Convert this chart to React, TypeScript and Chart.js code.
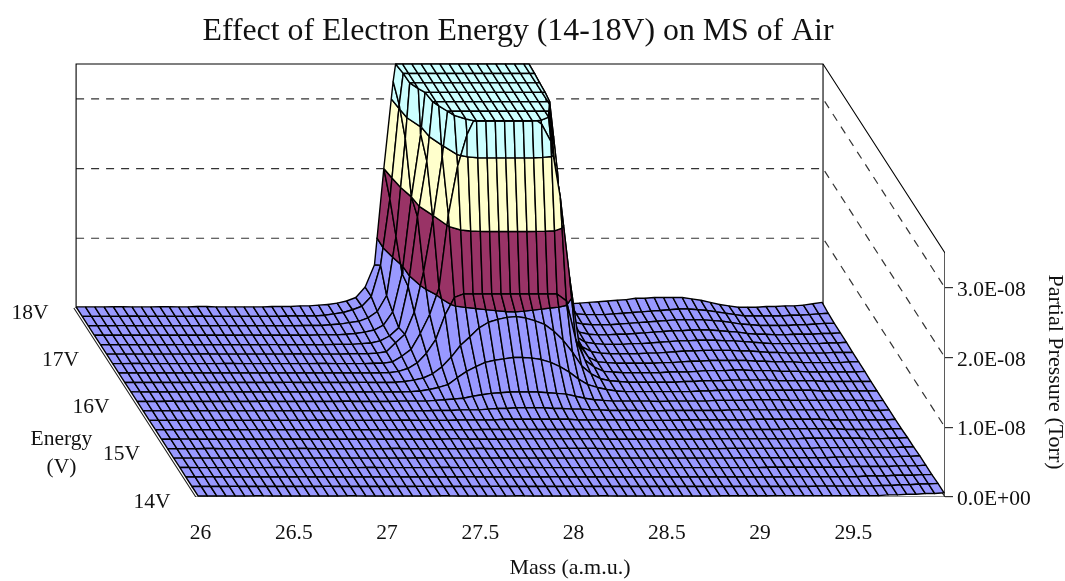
import React, { useEffect, useRef } from "react";
import { Chart, registerables } from "chart.js";

Chart.register(...registerables);

const TITLE = "Effect of Electron Energy (14-18V) on MS of Air";
const MASS_TITLE = "Mass (a.m.u.)";
const PRESSURE_TITLE = "Partial Pressure (Torr)";
const ENERGY_TITLE = ["Energy", "(V)"];
const MASS_TICKS = [26, 26.5, 27, 27.5, 28, 28.5, 29, 29.5];
const PRESSURE_TICKS = [0, 1e-8, 2e-8, 3e-8];
const ENERGY_TICKS = [14, 15, 16, 17, 18];
const GRID_LEVELS = [100, 200, 300];

const MASSES = [
  26, 26.05, 26.1, 26.15, 26.2, 26.25, 26.3, 26.35, 26.4, 26.45,
  26.5, 26.55, 26.6, 26.65, 26.7, 26.75, 26.8, 26.85, 26.9, 26.95,
  27, 27.05, 27.1, 27.15, 27.2, 27.25, 27.3, 27.35, 27.4, 27.45,
  27.5, 27.55, 27.6, 27.65, 27.7, 27.75, 27.8, 27.85, 27.9, 27.95,
  28, 28.05, 28.1, 28.15, 28.2, 28.25, 28.3, 28.35, 28.4, 28.45,
  28.5, 28.55, 28.6, 28.65, 28.7, 28.75, 28.8, 28.85, 28.9, 28.95,
  29, 29.05, 29.1, 29.15, 29.2, 29.25, 29.3, 29.35, 29.4, 29.45,
  29.5, 29.55, 29.6, 29.65, 29.7, 29.75, 29.8, 29.85, 29.9, 29.95, 30,
];

const ENERGIES = [18, 17.8, 17.6, 17.4, 17.2, 17, 16.8, 16.6, 16.4, 16.2, 16, 15.8, 15.6, 15.4, 15.2, 15, 14.8, 14.6, 14.4, 14.2, 14];

// Partial pressure per energy row, in units of 1E-10 Torr.
const P180 = [1.5,1.5,1.5,1.5,1.7,1.7,1.5,1.5,1.5,1.7, 1.7,1.5,1.5,2,2,1.5,1.5,1.5,1.5,1.5, 1.5,2,2,2,3,3,4,5,7,10, 15,30,62,200,325,420,470,480,480,480, 480,480,480,480,480,480,470,460,400,310, 80,22,12,6,7,8,9,10,11,12, 14,14,15,15,15,15,13,11,8,5, 3,1,1,1,2,2,3,3,4,6,8];
const P178 = [1.5,1.5,1.5,1.5,1.5,1.7,1.7,1.5,1.5,1.5, 1.5,1.5,1.7,1.7,1.5,1.5,1.5,1.5,1.5,1.5, 1.5,1.5,2,2,2,2,3,5,7,11, 16,30,75,170,305,410,460,480,480,480, 480,480,480,480,480,480,475,465,395,305, 75,20,9,5,4,4,4,5,6,7, 8,9,10,11,12,12,11,10,8,6, 4,2,2,2,2,2,3,3,4,5,6];
const P176 = [1.5,1.5,1.5,1.7,1.7,1.5,1.5,1.5,1.5,1.5, 1.5,1.5,1.5,1.5,1.7,1.7,1.5,1.5,1.5,1.5, 1.5,1.5,1.5,2,2,2,3,4,6,8, 13,22,45,130,270,440,470,480,480,480, 480,480,480,480,480,480,470,460,390,290, 65,16,7,4,3,3,3,4,5,6, 7,8,9,10,10,10,10,9,8,6, 4,3,2,2,2,2,3,3,4,5,5];
const P174 = [1.5,1.5,1.5,1.5,1.5,1.5,1.7,1.7,1.5,1.5, 1.5,1.5,1.5,1.5,1.5,1.5,1.7,1.7,1.5,1.5, 1.5,1.5,1.5,1.5,2,2,2,3,4,6, 9,16,35,90,200,290,420,470,480,480, 480,480,480,480,480,480,470,450,385,280, 55,14,6,3,2,2,3,3,4,5, 6,7,8,8,9,9,9,8,7,6, 4,3,3,2,2,3,3,3,4,4,5];
const P172 = [1.5,1.5,1.5,1.5,1.5,1.5,1.5,1.5,1.7,1.7, 1.5,1.5,1.5,1.5,1.5,1.5,1.5,1.5,1.7,1.7, 1.5,1.5,1.5,1.5,1.5,2,2,2,3,4, 7,14,26,85,185,265,400,460,470,470, 470,470,470,470,470,470,460,440,370,250, 45,13,5,3,2,2,2,3,3,4, 5,6,7,7,8,8,8,7,7,6, 5,4,3,3,3,3,3,3,4,4,5];
const P170 = [1.5,1.5,1.5,1.5,1.5,1.5,1.5,1.5,1.5,1.5, 1.7,1.7,1.5,1.5,1.5,1.5,1.5,1.5,1.5,1.5, 1.7,1.7,1.5,1.5,1.5,1.5,2,2,2,3, 5,18,30,62,120,195,285,400,440,450, 450,450,450,450,450,450,440,400,280,120, 35,12,5,3,2,2,2,2,3,3, 4,5,6,6,7,7,7,7,6,6, 5,4,4,3,3,3,3,3,4,4,4];
const P168 = [1.5,1.5,1.7,1.7,1.5,1.5,1.5,1.5,1.5,1.5, 1.5,1.5,1.7,1.7,1.5,1.5,1.5,1.5,1.5,1.5, 1.5,1.5,1.7,1.7,1.5,1.5,1.5,1.5,2,2, 4,12,22,45,72,110,215,285,330,358, 360,360,360,360,360,355,345,320,240,125, 30,11,4,3,2,2,2,2,2,3, 3,4,5,5,6,6,6,6,6,5, 5,4,4,4,3,3,3,3,3,4,4];
const P166 = [1.5,1.5,1.5,1.5,1.5,1.7,1.7,1.5,1.5,1.5, 1.5,1.5,1.5,1.5,1.5,1.7,1.7,1.5,1.5,1.5, 1.5,1.5,1.5,1.5,1.7,1.7,1.5,1.5,2,2, 4,8,16,30,50,85,110,115,115,115, 115,115,115,115,115,115,115,115,105,50, 20,10,4,3,2,2,2,2,2,3, 3,3,4,5,5,5,6,6,5,5, 5,4,4,4,3,3,3,3,3,3,4];
const P164 = [1.5,1.5,1.5,1.5,1.5,1.5,1.5,1.7,1.7,1.5, 1.5,1.5,1.5,1.5,1.5,1.5,1.5,1.7,1.7,1.5, 1.5,1.5,1.5,1.5,1.5,1.7,1.7,1.5,1.5,2, 3,5,8,14,24,38,55,67,80,88, 92,95,96,94,90,85,75,62,45,25, 14,7,4,3,2,2,2,2,2,2, 3,3,4,4,4,5,5,5,5,5, 4,4,4,4,4,3,3,3,3,3,3];
const P162 = [1.7,1.7,1.5,1.5,1.5,1.5,1.5,1.5,1.5,1.5, 1.7,1.7,1.5,1.5,1.5,1.5,1.5,1.5,1.5,1.5, 1.7,1.5,1.5,1.5,1.5,1.5,1.7,1.7,1.5,1.5, 2,3,5,8,12,22,31,38,44,47, 49,51,51,50,48,44,38,30,20,12, 8,5,3,2,2,2,2,2,2,2, 2,3,3,4,4,4,4,4,4,4, 4,4,4,4,3,3,3,3,3,3,3];
const P160 = [1.5,1.5,1.5,1.7,1.7,1.5,1.5,1.5,1.5,1.5, 1.5,1.5,1.5,1.7,1.7,1.5,1.5,1.5,1.5,1.5, 1.5,1.5,1.7,1.7,1.5,1.5,1.5,1.5,2,2, 2,2,3,4,5,6,9,11,13,14, 15,15,15,15,14,13,12,9,6,4, 3,2,2,2,2,2,1.5,2,2,2, 2,2,3,3,3,3,4,4,4,4, 3,3,3,3,3,3,3,3,3,2,3];
const P158 = [1.5,1.5,1.5,1.5,1.5,1.5,1.7,1.7,1.5,1.5, 1.5,1.5,1.5,1.5,1.5,1.5,1.7,1.7,1.5,1.5, 1.5,1.5,1.5,1.5,1.5,1.7,1.7,1.5,1.5,1.5, 1.5,2,2,2,3,3,3,4,5,5, 6,6,6,6,5,5,4,4,3,3, 2,2,2,2,1.5,1.5,2,2,2,2, 2,2,2,3,3,3,3,3,3,3, 3,3,3,3,3,3,3,3,2,2,3];
const P156 = [1.5,1.5,1.5,1.5,1.5,1.5,1.5,1.5,1.7,1.7, 1.5,1.5,1.5,1.5,1.5,1.5,1.5,1.5,1.7,1.7, 1.5,1.5,1.5,1.5,1.5,1.5,1.5,1.7,1.7,1.5, 1.5,1.5,1.5,2,2,2,2,2,3,3, 3,3,3,3,3,3,2,2,2,2, 2,2,1.5,1.5,1.5,1.5,1.5,2,2,2, 2,2,2,2,2,3,3,3,3,3, 3,3,3,2,2,2,2,2,2,2,3];
const P154 = [1.7,1.5,1.5,1.5,1.5,1.5,1.5,1.5,1.5,1.5, 1.7,1.7,1.5,1.5,1.5,1.5,1.5,1.5,1.5,1.5, 1.7,1.7,1.5,1.5,1.5,1.5,1.5,1.5,1.5,1.7, 1.7,1.5,1.5,1.5,1.5,2,2,2,2,2, 2,2,2,2,2,2,2,2,2,1.5, 1.5,1.5,1.5,1.5,1.5,1.5,1.5,1.5,2,2, 2,2,2,2,2,2,2,2,3,3, 3,3,3,3,2,2,2,2,2,3,3];
const P152 = [1.5,1.5,1.7,1.7,1.5,1.5,1.5,1.5,1.5,1.5, 1.5,1.5,1.7,1.7,1.5,1.5,1.5,1.5,1.5,1.5, 1.5,1.5,1.7,1.7,1.5,1.5,1.5,1.5,1.5,1.5, 1.5,2,2,1.5,1.5,1.5,1.5,1.5,2,2, 2,2,2,2,2,2,2,2,1.5,1.5, 1.5,1.5,1.5,1.5,1.5,1.5,1.5,1.5,1.5,2, 2,2,2,2,2,2,2,2,2,3, 3,3,3,3,3,3,2,2,3,3,4];
const P150 = [1.5,1.5,1.5,1.5,1.7,1.7,1.5,1.5,1.5,1.5, 1.5,1.5,1.5,1.5,1.7,1.7,1.5,1.5,1.5,1.5, 1.5,1.5,1.5,1.5,1.7,1.7,1.5,1.5,1.5,1.5, 1.5,1.5,1.5,1.7,1.7,1.5,1.5,1.5,1.5,1.5, 1.5,1.5,2,2,2,2,2,1.5,1.5,1.5, 1.5,1.5,1.5,1.5,1.5,1.5,1.5,1.5,1.5,1.5, 2,2,2,2,2,2,2,2,2,2, 3,3,3,3,3,3,3,3,3,4,4];
const P148 = [1.5,1.5,1.5,1.5,1.5,1.5,1.7,1.7,1.5,1.5, 1.5,1.5,1.5,1.5,1.5,1.5,1.7,1.7,1.5,1.5, 1.5,1.5,1.5,1.5,1.5,1.5,1.7,1.7,1.5,1.5, 1.5,1.5,1.5,1.5,1.5,1.7,1.7,1.5,1.5,1.5, 1.5,1.5,1.5,1.5,1.5,1.5,1.5,1.5,1.5,1.5, 1.5,1.5,1.5,1.5,1.5,1.5,1.5,1.5,1.5,1.5, 1.5,2,2,2,2,2,2,2,2,2, 2,3,3,3,3,3,3,3,4,4,5];
const P146 = [1.7,1.7,1.5,1.5,1.5,1.5,1.5,1.5,1.5,1.5, 1.7,1.7,1.5,1.5,1.5,1.5,1.5,1.5,1.5,1.5, 1.7,1.7,1.5,1.5,1.5,1.5,1.5,1.5,1.7,1.7, 1.5,1.5,1.5,1.5,1.5,1.5,1.5,1.7,1.7,1.5, 1.5,1.5,1.5,1.5,1.5,1.5,1.5,1.5,1.5,1.5, 1.5,1.5,1.5,1.5,1.5,1.5,1.5,1.5,1.5,1.5, 1.5,1.5,1.5,2,2,2,2,2,2,2, 2,2,3,3,3,3,3,4,4,4,5];
const P144 = [1.5,1.5,1.7,1.7,1.5,1.5,1.5,1.5,1.5,1.5, 1.5,1.5,1.7,1.7,1.5,1.5,1.5,1.5,1.5,1.5, 1.5,1.5,1.7,1.7,1.5,1.5,1.5,1.5,1.5,1.5, 1.7,1.7,1.5,1.5,1.5,1.5,1.5,1.5,1.5,1.7, 1.7,1.5,1.5,1.5,1.5,1.5,1.5,1.5,1.5,1.5, 1.5,1.5,1.5,1.5,1.5,1.5,1.5,1.5,1.5,1.5, 1.5,1.5,1.5,1.5,1.5,2,2,2,2,2, 2,2,2,3,3,3,4,4,4,5,5];
const P142 = [1.5,1.5,1.5,1.5,1.7,1.7,1.5,1.5,1.5,1.5, 1.5,1.5,1.5,1.5,1.7,1.7,1.5,1.5,1.5,1.5, 1.5,1.5,1.5,1.5,1.7,1.7,1.5,1.5,1.5,1.5, 1.5,1.5,1.7,1.7,1.5,1.5,1.5,1.5,1.5,1.5, 1.5,1.7,1.7,1.5,1.5,1.5,1.5,1.5,1.5,1.5, 1.5,1.5,1.5,1.5,1.5,1.5,1.5,1.5,1.5,1.5, 1.5,1.5,1.5,1.5,1.5,1.5,1.5,2,2,2, 2,2,2,2,3,3,4,4,5,5,6];
const P140 = [1.5,1.5,1.5,1.5,1.5,1.5,1.7,1.7,1.5,1.5, 1.5,1.5,1.5,1.5,1.5,1.5,1.7,1.7,1.5,1.5, 1.5,1.5,1.5,1.5,1.5,1.5,1.7,1.7,1.5,1.5, 1.5,1.5,1.5,1.5,1.7,1.7,1.5,1.5,1.5,1.5, 1.5,1.5,1.5,1.7,1.7,1.5,1.5,1.5,1.5,1.5, 1.5,1.5,1.5,1.5,1.5,1.5,1.7,1.7,1.7,1.7, 1.7,1.7,2,2,2,2,2,2,2,2, 2,2,2,2,3,3,4,4,5,5,6];

const SURFACE = [P180, P178, P176, P174, P172, P170, P168, P166, P164, P162, P160, P158, P156, P154, P152, P150, P148, P146, P144, P142, P140];

const BAND_LIMITS = [0, 100, 200, 300, 350, Infinity];
const BAND_COLORS = ["#9999ff", "#993366", "#ffffcc", "#ccffff", "#ccffff"];
const TOP_LEVEL = 350;
const UNIT = 1e-10;
const SERIF = "'Liberation Serif', 'Times New Roman', serif";

// Oblique projection, as shifts in the scales' own units per volt above 14 V.
const SHIFT_MASS = 0.1635;
const SHIFT_LEVEL = 67.8;

type P3 = { m: number; e: number; z: number };
const project = (p: P3) => ({
  x: p.m - (p.e - 14) * SHIFT_MASS,
  y: (Math.min(p.z, TOP_LEVEL) + (p.e - 14) * SHIFT_LEVEL) * UNIT,
});

function clip(poly: P3[], level: number, keepAbove: boolean): P3[] {
  if (!isFinite(level)) return poly;
  const out: P3[] = [];
  const inside = (p: P3) => (keepAbove ? p.z >= level : p.z <= level);
  poly.forEach((a, i) => {
    const b = poly[(i + 1) % poly.length];
    if (inside(a)) out.push(a);
    if (inside(a) !== inside(b)) {
      const t = (level - a.z) / (b.z - a.z);
      out.push({ m: a.m + (b.m - a.m) * t, e: a.e + (b.e - a.e) * t, z: level });
    }
  });
  return out;
}

function surfaceDatasets() {
  const sets: any[] = [];
  for (let r = 0; r < ENERGIES.length - 1; r++) {
    for (let c = 0; c < MASSES.length - 1; c++) {
      const cell: P3[] = [
        { m: MASSES[c], e: ENERGIES[r], z: SURFACE[r][c] },
        { m: MASSES[c + 1], e: ENERGIES[r], z: SURFACE[r][c + 1] },
        { m: MASSES[c + 1], e: ENERGIES[r + 1], z: SURFACE[r + 1][c + 1] },
        { m: MASSES[c], e: ENERGIES[r + 1], z: SURFACE[r + 1][c] },
      ];
      BAND_COLORS.forEach((color, b) => {
        const part = clip(clip(cell, BAND_LIMITS[b], true), BAND_LIMITS[b + 1], false);
        if (part.length < 3) return;
        const pts = [...part, part[0]].map(project);
        sets.push({
          data: pts,
          borderColor: "#000",
          borderWidth: 1.4,
          backgroundColor: color,
          fill: "shape",
          borderJoinStyle: "round",
        });
      });
    }
  }
  return sets;
}

function wallDatasets() {
  const m0 = MASSES[0];
  const m1 = 30.005;
  const floorLeft = m0 - 0.012;
  const line = (pts: P3[], extra: any = {}) => ({
    data: pts.map(project),
    borderColor: "#000",
    borderWidth: 1.1,
    fill: false,
    ...extra,
  });
  const dashes = GRID_LEVELS.map((z) =>
    line(
      [
        { m: m0, e: 18, z },
        { m: m1, e: 18, z },
        { m: m1, e: 14, z },
      ],
      { borderDash: [8, 7], borderColor: "#333", borderWidth: 1.2 },
    ),
  );
  return [
    ...dashes,
    line([
      { m: m0, e: 18, z: 0 },
      { m: m0, e: 18, z: TOP_LEVEL },
      { m: m1, e: 18, z: TOP_LEVEL },
      { m: m1, e: 14, z: TOP_LEVEL },
    ]),
    line([
      { m: m1, e: 18, z: TOP_LEVEL },
      { m: m1, e: 18, z: 0 },
    ]),
    line(
      [
        { m: m0, e: 18, z: 0 },
        { m: m1, e: 18, z: 0 },
        { m: m1, e: 14, z: 0 },
        { m: floorLeft, e: 14, z: 0 },
        { m: floorLeft, e: 18, z: 0 },
      ],
      { borderColor: "#222" },
    ),
    line(
      [
        { m: m1, e: 14, z: 0 },
        { m: m1, e: 14, z: TOP_LEVEL },
      ],
      { borderColor: "#333", borderWidth: 1.6 },
    ),
  ];
}

const labelsPlugin = {
  id: "surfaceLabels",
  afterDraw(chart: any) {
    const { ctx, scales } = chart;
    ctx.save();
    ctx.fillStyle = "#111";
    ctx.font = `21.5px ${SERIF}`;
    ctx.textAlign = "center";
    ctx.textBaseline = "middle";
    ENERGY_TICKS.forEach((e) => {
      const p = project({ m: MASSES[0], e, z: 0 });
      ctx.fillText(`${e}V`, scales.x.getPixelForValue(p.x) - 46, scales.y.getPixelForValue(p.y) + 5);
    });
    const mid = project({ m: MASSES[0], e: 15.3, z: 0 });
    const ex = scales.x.getPixelForValue(mid.x) - 97;
    const ey = scales.y.getPixelForValue(mid.y) + 4;
    ctx.fillText(ENERGY_TITLE[0], ex, ey);
    ctx.fillText(ENERGY_TITLE[1], ex, ey + 28);
    ctx.font = `22px ${SERIF}`;
    ctx.fillText(MASS_TITLE, 570, 568);
    ctx.translate(1055, 372);
    ctx.rotate(Math.PI / 2);
    ctx.fillText(PRESSURE_TITLE, 0, 0);
    ctx.restore();
  },
};

const formatPressure = (v: number) => {
  if (v === 0) return "0.0E+00";
  const [a, b] = v.toExponential(1).split("e");
  return `${a}E-${String(Math.abs(Number(b))).padStart(2, "0")}`;
};

export default function App() {
  const ref = useRef<HTMLCanvasElement>(null);
  useEffect(() => {
    const datasets = [...wallDatasets(), ...surfaceDatasets()].reverse();
    const chart = new Chart(ref.current as HTMLCanvasElement, {
      type: "line",
      data: { datasets },
      plugins: [labelsPlugin],
      options: {
        animation: false,
        responsive: false,
        devicePixelRatio: 1,
        events: [],
        layout: { padding: { left: 0, right: 29, top: 0, bottom: 0 } },
        elements: { point: { radius: 0 }, line: { tension: 0 } },
        plugins: {
          legend: { display: false },
          tooltip: { enabled: false },
          title: {
            display: true,
            text: TITLE,
            color: "#111",
            font: { family: SERIF, size: 31.8, weight: "normal", lineHeight: 1.13 },
            padding: { top: 14, bottom: 10 },
          },
        },
        scales: {
          x: {
            type: "linear",
            position: "bottom",
            min: 24.938,
            max: 30.005,
            border: { display: false },
            grid: { display: false },
            afterBuildTicks: (s: any) => {
              s.ticks = MASS_TICKS.map((value) => ({ value }));
            },
            afterFit: (s: any) => {
              s.height = 84;
            },
            ticks: {
              autoSkip: false,
              maxRotation: 0,
              padding: 15,
              labelOffset: 2.5,
              color: "#111",
              font: { family: SERIF, size: 21.5 },
              callback: (v: any) => String(v),
            },
          },
          y: {
            type: "linear",
            position: "right",
            min: 0,
            max: 6.27e-8,
            border: { display: false },
            grid: { drawOnChartArea: false, drawTicks: true, tickLength: 8, color: "#333", lineWidth: 1.2 },
            afterBuildTicks: (s: any) => {
              s.ticks = PRESSURE_TICKS.map((value) => ({ value }));
            },
            afterFit: (s: any) => {
              s.width = 91;
            },
            ticks: {
              autoSkip: false,
              padding: 4,
              labelOffset: 2.5,
              color: "#111",
              font: { family: SERIF, size: 21.5 },
              callback: (v: any) => formatPressure(Number(v)),
            },
          },
        },
      } as any,
    });
    return () => chart.destroy();
  }, []);
  return (
    <div style={{ position: "fixed", left: 0, top: 0, width: 1065, height: 581, background: "#fff" }}>
      <canvas ref={ref} width={1065} height={581} style={{ display: "block" }} />
    </div>
  );
}
